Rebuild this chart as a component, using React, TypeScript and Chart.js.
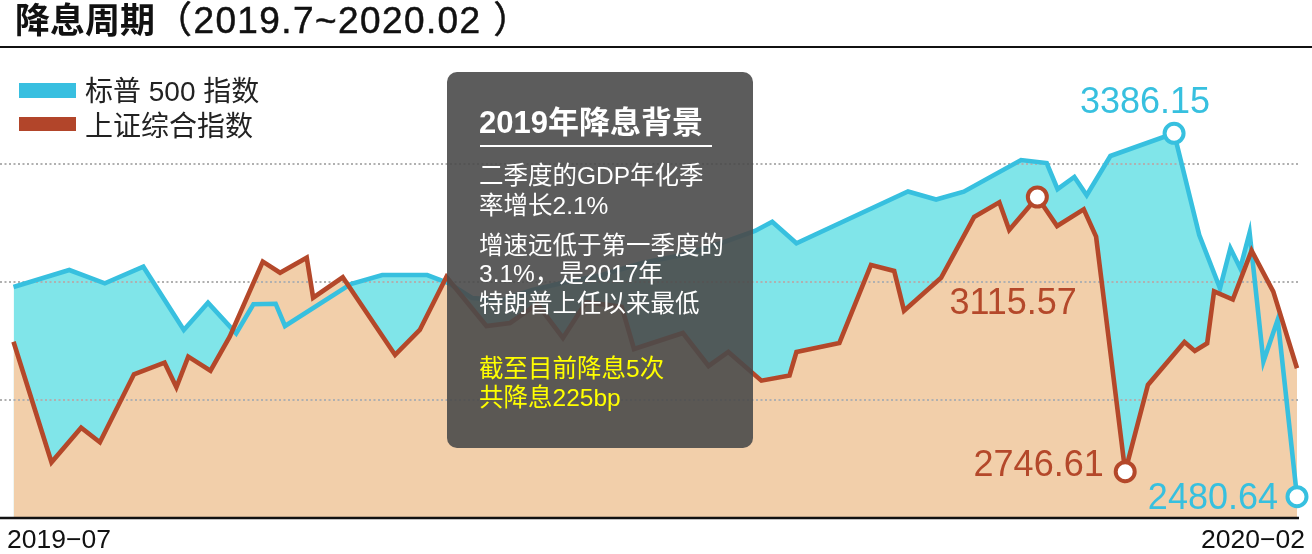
import React, { useEffect, useRef } from "react";
import { Chart, registerables } from "chart.js";

Chart.register(...registerables);

// ---------- data ----------
const titleMain = "降息周期";
const titleRange = "（2019.7~2020.02 ）";
const legendLabels = ["标普 500 指数", "上证综合指数"];
const xTickLabels = ["2019−07", "2020−02"];
const boxTitle = "2019年降息背景";
const boxLines = ["二季度的GDP年化季", "率增长2.1%", "增速远低于第一季度的", "3.1%，是2017年", "特朗普上任以来最低"];
const boxHighlight = ["截至目前降息5次", "共降息225bp"];

// x: days from 2019-07-01 (chart position estimate)
const xDomain = [0, 260];
const spxDays = [0, 11.3, 18.5, 26.3, 34.5, 39.4, 45.1, 48.6, 53.1, 55.0, 68.3, 74.7, 83.8, 88.2, 92.9, 99.0, 105.1, 111.1, 119.2, 127.3, 135.4, 143.4, 150.2, 153.7, 158.6, 181.2, 186.9, 192.5, 204.1, 209.3, 211.5, 214.9, 217.4, 222.2, 235.1, 240.2, 244.4, 246.5, 248.5, 250.4, 253.2, 256.1, 260];
const spxValues = [3003.2, 3045.5, 3012.4, 3053.8, 2896.0, 2964.1, 2887.8, 2960.1, 2961.5, 2906.0, 3010.6, 3033.1, 3033.1, 3012.4, 2975.8, 2970.8, 2995.7, 3013.2, 3033.1, 3063.0, 3082.9, 3112.8, 3142.7, 3165.9, 3112.1, 3241.1, 3221.2, 3240.6, 3319.6, 3312.1, 3246.9, 3277.3, 3231.7, 3329.6, 3386.15, 3132.7, 2999.9, 3099.6, 3049.8, 3138.5, 2817.5, 2922.2, 2480.64];
const sseDays = [0, 7.7, 13.7, 17.5, 24.4, 30.6, 33.0, 35.4, 39.9, 43.8, 50.5, 54.0, 59.4, 60.7, 66.7, 77.3, 82.3, 87.7, 95.8, 100.6, 106.1, 111.3, 116.0, 123.2, 125.7, 135.6, 140.8, 144.8, 151.5, 157.2, 158.6, 167.3, 173.7, 178.4, 180.4, 187.9, 194.6, 199.7, 201.7, 207.4, 211.4, 216.8, 219.3, 225.2, 229.8, 237.2, 239.3, 241.8, 243.2, 247.0, 250.8, 255.2, 260];
const sseValues = [2921.2, 2759.3, 2805.7, 2786.1, 2877.5, 2893.0, 2860.0, 2901.1, 2882.3, 2928.0, 3028.7, 3013.9, 3034.1, 2980.3, 3007.7, 2903.4, 2937.0, 3008.1, 2942.3, 2946.4, 2971.9, 2926.2, 2974.6, 2967.9, 2911.4, 2932.9, 2888.6, 2907.4, 2868.9, 2875.9, 2907.4, 2919.5, 3024.3, 3016.2, 2962.9, 3007.1, 3088.7, 3108.5, 3071.3, 3115.57, 3076.6, 3099.1, 3062.3, 2746.61, 2863.1, 2920.8, 2908.8, 2919.1, 2988.9, 2977.9, 3043.5, 2988.4, 2885.5];
const spxRange = [2427.6, 3603.7];
const sseRange = [2684.4, 3318.4];
const gridTicks = [0, 1, 2, 3, 4];

// ---------- styles ----------
const FONT = '"Liberation Sans", "Noto Sans CJK SC", sans-serif';
const SPX_LINE = "#37c0df";
const SPX_FILL = "#80e5e9";
const SSE_LINE = "#b4482a";
const SSE_FILL = "#f2cfaa";
const LINE_W = 4.6;

const argMax = (a: number[]) => a.indexOf(Math.max(...a));
const argMin = (a: number[]) => a.indexOf(Math.min(...a));

const labelSpecs = [
  { ds: 1, pick: "max", color: SPX_LINE, dx: 36, dy: -20 },
  { ds: 1, pick: "min", color: SPX_LINE, dx: -19, dy: 12.6 },
  { ds: 0, pick: "max", color: SSE_LINE, dx: 39.5, dy: 116.5 },
  { ds: 0, pick: "min", color: SSE_LINE, dx: -21.5, dy: 4.3 },
];

const decor = {
  id: "decor",
  beforeDatasetsDraw(chart: any) {
    const { ctx } = chart;
    const g = chart.scales.g;
    ctx.save();
    gridTicks.forEach((t) => {
      if (t === 0 || t === 4) return;
      const y = Math.round(g.getPixelForValue(t));
      ctx.beginPath();
      ctx.setLineDash([2, 2.5]);
      ctx.strokeStyle = "#b0b0b0";
      ctx.lineWidth = 2;
      ctx.moveTo(0, y);
      ctx.lineTo(1300, y);
      ctx.stroke();
    });
    ctx.restore();
  },
  afterDatasetsDraw(chart: any) {
    const { ctx } = chart;
    ctx.save();
    const y0 = chart.scales.g.getPixelForValue(0);
    ctx.beginPath();
    ctx.setLineDash([]);
    ctx.strokeStyle = "#111";
    ctx.lineWidth = 2.5;
    ctx.moveTo(0, y0);
    ctx.lineTo(1299, y0);
    ctx.stroke();
    ctx.font = '36px "Liberation Sans", sans-serif';
    ctx.textAlign = "right";
    ctx.textBaseline = "alphabetic";
    labelSpecs.forEach((s) => {
      const vals = s.ds === 1 ? spxValues : sseValues;
      const idx = s.pick === "max" ? argMax(vals) : argMin(vals);
      const el = chart.getDatasetMeta(s.ds).data[idx];
      ctx.fillStyle = s.color;
      ctx.fillText(vals[idx].toFixed(2), el.x + s.dx, el.y + s.dy);
    });
    ctx.restore();
  },
};

function Txt(props: any) {
  const { x, right, base, size, color = "#111", weight = 400, ls, children } = props;
  const style: React.CSSProperties = {
    position: "absolute",
    top: base - 0.8465 * size,
    fontSize: size,
    lineHeight: `${size}px`,
    fontFamily: FONT,
    fontWeight: weight,
    color,
    whiteSpace: "pre",
    letterSpacing: ls,
  };
  if (right !== undefined) style.right = right;
  else style.left = x;
  return <div style={style}>{children}</div>;
}

export default function App() {
  const ref = useRef<HTMLCanvasElement>(null);

  useEffect(() => {
    const canvas = ref.current!;
    const spxMarks = [argMax(spxValues), argMin(spxValues)];
    const sseMarks = [argMax(sseValues), argMin(sseValues)];
    const chart = new Chart(canvas, {
      type: "line",
      data: {
        datasets: [
          {
            label: legendLabels[1],
            data: sseDays.map((d, i) => ({ x: d, y: sseValues[i] })),
            yAxisID: "ySse",
            borderColor: SSE_LINE,
            backgroundColor: SSE_FILL,
            fill: "start",
            borderWidth: LINE_W,
            borderJoinStyle: "miter",
            tension: 0,
            pointRadius: (c: any) => (sseMarks.includes(c.dataIndex) ? 9.5 : 0),
            pointBorderWidth: 4,
            pointBackgroundColor: "#fff",
            pointBorderColor: SSE_LINE,
            clip: false,
          } as any,
          {
            label: legendLabels[0],
            data: spxDays.map((d, i) => ({ x: d, y: spxValues[i] })),
            yAxisID: "ySpx",
            borderColor: SPX_LINE,
            backgroundColor: SPX_FILL,
            fill: "start",
            borderWidth: LINE_W,
            borderJoinStyle: "miter",
            tension: 0,
            pointRadius: (c: any) => (spxMarks.includes(c.dataIndex) ? 9.5 : 0),
            pointBorderWidth: 4,
            pointBackgroundColor: "#fff",
            pointBorderColor: SPX_LINE,
            clip: false,
          } as any,
        ],
      },
      options: {
        animation: false,
        responsive: false,
        events: [],
        layout: { padding: { left: 10, right: 15, top: 46, bottom: 36 } },
        plugins: {
          legend: { display: false },
          tooltip: { enabled: false },
          filler: { drawTime: "beforeDatasetsDraw" },
        } as any,
        scales: {
          x: { type: "linear", axis: "x", position: "bottom", min: xDomain[0], max: xDomain[1], display: false },
          ySpx: { type: "linear", axis: "y", position: "left", min: spxRange[0], max: spxRange[1], display: false },
          ySse: { type: "linear", axis: "y", position: "right", min: sseRange[0], max: sseRange[1], display: false },
          g: { type: "linear", axis: "y", position: "left", min: 0, max: 4, display: false },
        } as any,
      },
      plugins: [decor],
    });
    return () => chart.destroy();
  }, []);

  const bodyBases = [185, 214.7, 254.7, 283, 312.3];
  const hiBases = [377.3, 406.5];

  return (
    <div style={{ position: "fixed", left: 0, top: 0, width: 1312, height: 554, background: "#fff", overflow: "hidden" }}>
      <canvas ref={ref} width={1312} height={554} style={{ position: "absolute", left: 0, top: 0, width: 1312, height: 554 }} />
      {/* title */}
      <div style={{ position: "absolute", left: 15, top: 33 - 0.8465 * 35, fontSize: 35, lineHeight: "35px", fontFamily: FONT, color: "#111", whiteSpace: "pre" }}>
        <span style={{ fontWeight: 700 }}>{titleMain}</span>
        <span style={{ letterSpacing: 1.4, fontSize: 37, WebkitTextStroke: "0.5px #111" }}>{titleRange}</span>
      </div>
      <div style={{ position: "absolute", left: 0, top: 46, width: 1312, height: 2, background: "#111" }} />
      {/* legend */}
      <div style={{ position: "absolute", left: 19, top: 83, width: 57, height: 15, background: "#38bfe0" }} />
      <div style={{ position: "absolute", left: 19, top: 117, width: 57, height: 14, background: "#b2452a" }} />
      <Txt x={85} base={101.5} size={28} color="#222">{legendLabels[0]}</Txt>
      <Txt x={85} base={137} size={28} color="#222">{legendLabels[1]}</Txt>
      {/* x labels */}
      <Txt x={7} base={548.3} size={26.5} color="#111">{xTickLabels[0]}</Txt>
      <Txt right={7} base={548.3} size={26.5} color="#111">{xTickLabels[1]}</Txt>
      {/* info box */}
      <div style={{ position: "absolute", left: 447, top: 72, width: 306, height: 376, borderRadius: 10, background: "rgba(74,74,74,0.9)" }} />
      <Txt x={479} base={133.5} size={31} weight={700} color="#fff">{boxTitle}</Txt>
      <div style={{ position: "absolute", left: 480, top: 145, width: 232, height: 2, background: "#fff" }} />
      {boxLines.map((t, i) => (
        <Txt key={i} x={479} base={bodyBases[i]} size={24.5} color="#fff">{t}</Txt>
      ))}
      {boxHighlight.map((t, i) => (
        <Txt key={"h" + i} x={479} base={hiBases[i]} size={24.5} color="#ffff00">{t}</Txt>
      ))}
    </div>
  );
}
